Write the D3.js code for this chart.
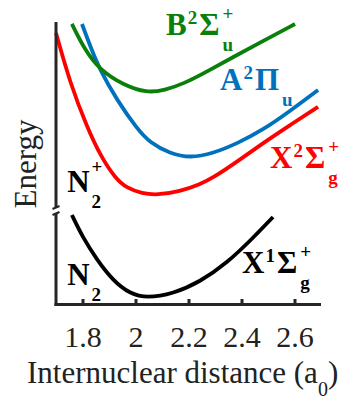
<!DOCTYPE html>
<html><head><meta charset="utf-8">
<script src="https://cdn.jsdelivr.net/npm/d3@7"></script>
<style>html,body{margin:0;padding:0;background:#fff;} svg{display:block} text{font-family:"Liberation Serif","Times New Roman","DejaVu Serif",serif;}</style>
</head><body>
<svg id="c" width="352" height="402"></svg>
<script>
// ---- data ----
const xTicks = [1.8, 2.0, 2.2, 2.4, 2.6];
const xTickLabels = ["1.8", "2", "2.2", "2.4", "2.6"];

// N2 X1Σg+ (black)
const blackR = [1.76, 1.80, 1.855, 1.915, 1.979, 2.043, 2.142, 2.243, 2.345, 2.443, 2.519];
const blackE = [3.13, 2.35, 1.53, 0.80, 0.33, 0.17, 0.33, 0.75, 1.42, 2.31, 3.06];
// N2+ X2Σg+ (red)
const redR = [1.70, 1.753, 1.817, 1.870, 1.923, 1.968, 2.025, 2.081, 2.168, 2.243, 2.292, 2.387, 2.481, 2.583, 2.689];
const redE = [9.61, 7.83, 6.26, 5.20, 4.45, 4.08, 3.90, 3.84, 3.97, 4.22, 4.45, 5.05, 5.69, 6.33, 6.98];
// N2+ A2Πu (blue)
const blueR = [1.798, 1.832, 1.866, 1.930, 2.006, 2.055, 2.130, 2.206, 2.292, 2.387, 2.481, 2.583, 2.689];
const blueE = [9.93, 9.07, 8.29, 7.22, 6.20, 5.70, 5.32, 5.16, 5.32, 5.69, 6.16, 6.83, 7.58];
// N2+ B2Σu+ (green)
const greenR = [1.760, 1.809, 1.866, 1.953, 2.043, 2.111, 2.179, 2.274, 2.368, 2.481, 2.602];
const greenE = [9.93, 9.00, 8.29, 7.76, 7.47, 7.58, 7.79, 8.26, 8.75, 9.32, 9.93];

// state labels
const labelR    = [2.115, 2.319, 2.508, 2.402, 1.742, 1.742];
const labelE    = [9.54, 7.58, 4.80, 1.07, 3.95, 0.64];
const labelMain = ["B", "A", "X", "X", "N", "N"];
const labelSup1 = ["2", "2", "2", "1", "", ""];
const labelSym  = ["Σ", "Π", "Σ", "Σ", "", ""];
const labelSup2 = ["+", "", "+", "+", "+", ""];
const labelSub  = ["u", "u", "g", "g", "2", "2"];

// ---- drawing ----
const svg = d3.select("#c");
const x = d3.scaleLinear().domain([1.7, 2.7]).range([56, 321]);
const y = d3.scaleLinear().domain([0, 10]).range([303, 22]);
const axisCol = "#262626";
const serif = "Liberation Serif, Times New Roman, DejaVu Serif, serif";

const series = [
  {r: blackR, e: blackE, c: "#000000"},
  {r: redR, e: redE, c: "#ff0000"},
  {r: blueR, e: blueE, c: "#0072bd"},
  {r: greenR, e: greenE, c: "#0a800a"}
];
const line = d3.line().x(d => x(d[0])).y(d => y(d[1])).curve(d3.curveBasis);
series.forEach(s => {
  svg.append("path")
    .attr("d", line(s.r.map((r, i) => [r, s.e[i]])))
    .attr("fill", "none").attr("stroke", s.c).attr("stroke-width", 3.8)
    .attr("stroke-linecap", "butt");
});

// x axis
const axisY = 304.5;
const xAxis = d3.axisBottom(x).tickValues(xTicks)
  .tickFormat((d, i) => xTickLabels[i])
  .tickSizeInner(-5.5).tickSizeOuter(0).tickPadding(21);
const gx = svg.append("g").attr("transform", `translate(0,${axisY})`).call(xAxis)
  .attr("font-family", serif).attr("font-size", 30);
gx.select(".domain").remove();
gx.selectAll(".tick line").attr("stroke", axisCol).attr("stroke-width", 3);
gx.selectAll(".tick text").attr("fill", "#222");
svg.append("line").attr("x1", 54.5).attr("x2", x(2.7)).attr("y1", axisY).attr("y2", axisY)
  .attr("stroke", axisCol).attr("stroke-width", 3);

// y axis with break
svg.append("line").attr("x1", x(1.7)).attr("x2", x(1.7)).attr("y1", 22).attr("y2", 207.5)
  .attr("stroke", axisCol).attr("stroke-width", 3);
svg.append("line").attr("x1", x(1.7)).attr("x2", x(1.7)).attr("y1", 213.5).attr("y2", axisY + 1.5)
  .attr("stroke", axisCol).attr("stroke-width", 3);
[207.5, 213.5].forEach(yy => {
  svg.append("line").attr("x1", x(1.7) - 3.5).attr("x2", x(1.7) + 3.5)
    .attr("y1", yy + 1.5).attr("y2", yy - 1.5)
    .attr("stroke", axisCol).attr("stroke-width", 2.2);
});

// axis titles
svg.append("text").attr("transform", "translate(36,164) rotate(-90)")
  .attr("text-anchor", "middle").attr("fill", "#222")
  .attr("font-family", serif).attr("font-size", 31).text("Energy");
const xt = svg.append("text").attr("x", 27).attr("y", 383).attr("fill", "#222")
  .attr("font-family", serif).attr("font-size", 31);
xt.append("tspan").text("Internuclear distance (a");
xt.append("tspan").attr("dy", 13).attr("font-size", 20).text("0");
xt.append("tspan").attr("dy", -13).text(")");

// state labels
function addText(g, t, px, py, size, col) {
  const el = g.append("text").attr("x", px).attr("y", py).attr("fill", col)
    .attr("font-family", serif).attr("font-weight", "bold").attr("font-size", size).text(t);
  return el.node().getComputedTextLength();
}
labelMain.forEach((m, i) => {
  const col = i === 0 ? "#0a800a" : i === 1 ? "#0072bd" : i === 2 ? "#ff0000" : "#000000";
  const g = svg.append("g").attr("transform", `translate(${x(labelR[i])},${y(labelE[i])})`);
  let w = addText(g, m, 0, 0, 31, col);
  if (labelSup1[i]) { w += 1 + addText(g, labelSup1[i], w + 1, -11, 19, col) + 2; }
  if (labelSym[i]) { w += addText(g, labelSym[i], w, 0, 31, col) + 3; }
  else w += 2;
  const supDy = labelSym[i] ? -15 : -19;
  if (labelSup2[i]) addText(g, labelSup2[i], w, supDy, 19, col);
  if (labelSub[i]) addText(g, labelSub[i], w, 16, 19, col);
});
</script>
</body></html>
